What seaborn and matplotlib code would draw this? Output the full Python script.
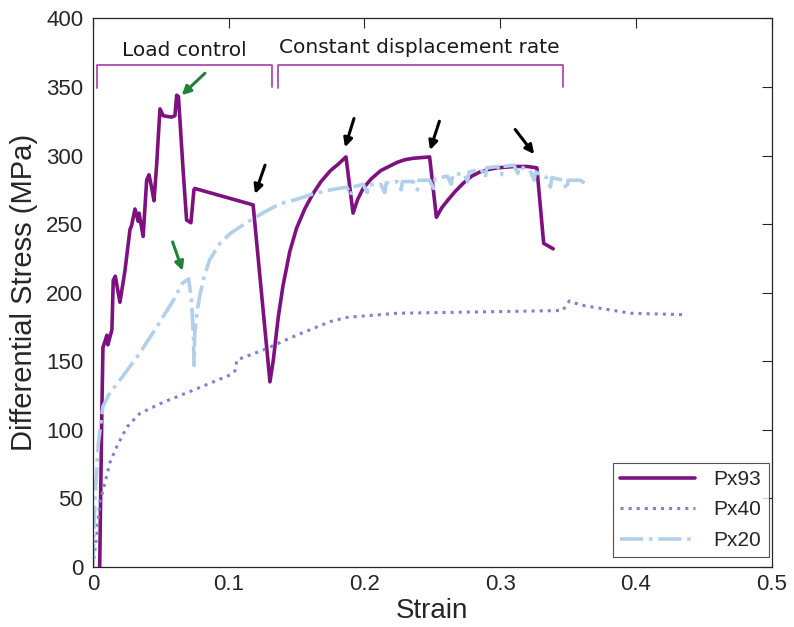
import matplotlib
matplotlib.use("Agg")
import matplotlib.pyplot as plt
import seaborn as sns
import pandas as pd

# Stress-strain records for three samples
px93_strain = [0.005, 0.0066, 0.0074, 0.0103, 0.011, 0.014, 0.015, 0.0165, 0.0199, 0.0236,
               0.0273, 0.0285, 0.031, 0.0334, 0.034, 0.037, 0.0396, 0.0413, 0.0432, 0.045,
               0.047, 0.048, 0.0494, 0.0518, 0.058, 0.0604, 0.0617, 0.063, 0.0666, 0.069,
               0.0722, 0.0744, 0.075, 0.118, 0.1304, 0.1329, 0.1365, 0.140, 0.145, 0.150,
               0.156, 0.162, 0.168, 0.175, 0.181, 0.1864, 0.1916, 0.195, 0.199, 0.205,
               0.212, 0.218, 0.224, 0.230, 0.236, 0.248, 0.253, 0.257, 0.261, 0.267,
               0.273, 0.279, 0.285, 0.292, 0.298, 0.310, 0.320, 0.327, 0.332, 0.339]
px93_stress = [0, 114, 160, 169, 162, 173, 209, 212, 193, 216,
               246, 249, 261, 252, 258, 241, 282, 286, 277, 267,
               294, 311, 334, 329, 328, 329, 344, 343, 287, 253,
               251, 275, 276, 264, 135, 151, 182, 205, 230, 247,
               261, 272, 281, 289, 294, 299, 258, 268, 276, 283,
               289, 292, 295, 297, 298, 299, 255, 262, 267, 274,
               280, 285, 288, 290, 291, 292, 292, 291, 236, 232]

px40_strain = [0.0, 0.003, 0.005, 0.0088, 0.0125, 0.0177, 0.025, 0.0346, 0.0516, 0.0766,
               0.101, 0.1047, 0.106, 0.125, 0.150, 0.175, 0.187, 0.224, 0.285, 0.346,
               0.351, 0.359, 0.396, 0.434]
px40_stress = [0, 25, 47, 61, 76, 88, 102, 112, 120, 130,
               140, 143, 151, 158, 169, 179, 182, 185, 186, 187,
               194, 191, 185, 184]

px20_strain = [0.0, 0.0015, 0.004, 0.0074, 0.0125, 0.022, 0.0346, 0.047, 0.059, 0.066,
               0.0705, 0.0727, 0.074, 0.0745, 0.075, 0.077, 0.079, 0.082, 0.086, 0.0936,
               0.101, 0.113, 0.125, 0.138, 0.150, 0.162, 0.175, 0.187, 0.190, 0.191,
               0.199, 0.202, 0.203, 0.212, 0.215, 0.216, 0.224, 0.227, 0.228, 0.236,
               0.239, 0.240, 0.248, 0.251, 0.252, 0.261, 0.264, 0.265, 0.273, 0.276,
               0.277, 0.286, 0.289, 0.290, 0.298, 0.301, 0.302, 0.310, 0.313, 0.314,
               0.322, 0.325, 0.326, 0.334, 0.337, 0.338, 0.346, 0.349, 0.350, 0.359,
               0.365]
px20_stress = [0, 49, 90, 117, 127, 139, 156, 175, 194, 207,
               210, 194, 168, 147, 170, 188, 199, 212, 224, 236,
               243, 251, 258, 265, 268, 272, 275, 277, 271, 277,
               279, 273, 279, 279, 273, 280, 281, 275, 281, 281,
               275, 282, 282, 276, 283, 285, 279, 286, 287, 281,
               288, 290, 284, 291, 292, 286, 292, 293, 287, 292,
               289, 282, 288, 284, 277, 284, 282, 275, 282, 282,
               278]

sample_names = ["Px93", "Px40", "Px20"]
x_ticks = [0, 0.1, 0.2, 0.3, 0.4, 0.5]
x_tick_labels = ["0", "0.1", "0.2", "0.3", "0.4", "0.5"]
y_ticks = [0, 50, 100, 150, 200, 250, 300, 350, 400]

# Arrows marking failure events: (tail strain, tail stress, head strain, head stress)
green_arrows = [(0.0825, 360, 0.0654, 344), (0.0587, 237, 0.0661, 216)]
black_arrows = [(0.1268, 293, 0.1194, 272), (0.1923, 327, 0.1857, 306),
                (0.2552, 325, 0.2483, 304), (0.311, 319, 0.325, 301)]

sns.set_theme(style="white")
plt.rcParams["font.family"] = ["Liberation Sans", "DejaVu Sans"]

fig = plt.figure(figsize=(7.94, 6.27), dpi=100)
ax = fig.add_axes([0.117, 0.0957, 0.855, 0.875])

styles = {
    "Px93": dict(color="#7D1180", linestyle="-", linewidth=2.6),
    "Px40": dict(color="#7E84C9", linestyle=":", linewidth=2.2),
    "Px20": dict(color="#B2D0EA", linestyle="-.", linewidth=2.6),
}
series = {
    "Px93": (px93_strain, px93_stress),
    "Px40": (px40_strain, px40_stress),
    "Px20": (px20_strain, px20_stress),
}
for name in sample_names:
    xs, ys = series[name]
    df = pd.DataFrame({"strain": xs, "stress": ys})
    sns.lineplot(data=df, x="strain", y="stress", sort=False, estimator=None,
                 ax=ax, label=name, **styles[name])

# Test-phase brackets
bracket_color = "#B04AB2"
ax.plot([0.003, 0.003, 0.132, 0.132], [349, 366, 366, 350], color=bracket_color, lw=1.3)
ax.plot([0.136, 0.136, 0.346, 0.346], [349, 366, 366, 350], color=bracket_color, lw=1.3)
ax.text(0.0675, 370, "Load control", ha="center", va="bottom", fontsize=14.5,
        family="DejaVu Sans", color="#1a1a1a")
ax.text(0.2405, 372, "Constant displacement rate", ha="center", va="bottom", fontsize=14.5,
        family="DejaVu Sans", color="#1a1a1a")

for (x0, y0, x1, y1) in green_arrows:
    ax.annotate("", xy=(x1, y1), xytext=(x0, y0),
                arrowprops=dict(arrowstyle="-|>", color="#23803A", lw=2.2,
                                mutation_scale=13, shrinkA=0, shrinkB=0))
for (x0, y0, x1, y1) in black_arrows:
    ax.annotate("", xy=(x1, y1), xytext=(x0, y0),
                arrowprops=dict(arrowstyle="-|>", color="black", lw=2.2,
                                mutation_scale=13, shrinkA=0, shrinkB=0))

ax.set_xlim(0, 0.5)
ax.set_ylim(0, 400)
ax.set_xticks(x_ticks)
ax.set_xticklabels(x_tick_labels)
ax.set_yticks(y_ticks)
ax.set_xlabel("Strain", fontsize=20, labelpad=2)
ax.set_ylabel("Differential Stress (MPa)", fontsize=21, labelpad=6)
ax.tick_params(axis="both", which="both", direction="in", top=True, right=True,
               length=7, width=0.8, labelsize=16, colors="#262626")
ax.tick_params(axis="x", pad=5)
ax.tick_params(axis="y", pad=7)
for sp in ax.spines.values():
    sp.set_color("#262626")
    sp.set_linewidth(0.9)

leg = ax.legend(loc="lower right", fontsize=15, handlelength=3.6, frameon=True,
                fancybox=False, borderpad=0.35, labelspacing=0.55,
                bbox_to_anchor=(0.9956, 0.018), borderaxespad=0, handletextpad=0.9)
leg.get_frame().set_edgecolor("#262626")
leg.get_frame().set_linewidth(0.8)

fig.savefig("out.png", dpi=100)
